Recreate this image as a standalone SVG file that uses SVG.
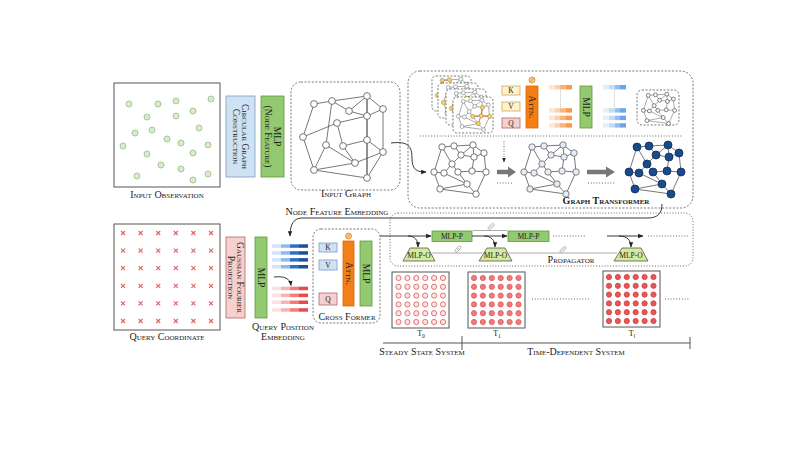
<svg xmlns="http://www.w3.org/2000/svg" xmlns:xlink="http://www.w3.org/1999/xlink" width="808" height="455" viewBox="0 0 808 455">
<defs>
<style>
.t{font-family:"Liberation Serif","DejaVu Serif",serif;font-variant:small-caps;fill:#222;text-anchor:middle}
.l{font-size:10px}
.b{font-weight:bold}
.r{font-size:9.5px}
.s{font-size:7.5px;font-variant:normal}
.green{fill:#93c96f;stroke:#5e9a40;stroke-width:0.8}
.blue{fill:#cfe2f3;stroke:#7a9cc0;stroke-width:0.8}
.pink{fill:#f6cfcf;stroke:#b06a6a;stroke-width:0.8}
.yel{fill:#fff2cc;stroke:#c8ab55;stroke-width:0.8}
.org{fill:#f57f17;stroke:#d96800;stroke-width:0.8}
.mo{fill:#d6ea9c;stroke:#555;stroke-width:0.8}
.dsh{fill:none;stroke:#555;stroke-width:0.8;stroke-dasharray:2 1.6}
.dot{fill:none;stroke:#555;stroke-width:0.9;stroke-dasharray:1 1.8}
.ln{fill:none;stroke:#222;stroke-width:0.9}
.gl{fill:none;stroke:#aaa;stroke-width:1.1}
.obs{fill:#d9ebcc;stroke:#9cc487;stroke-width:0.9}
.frm{fill:#fff;stroke:#555;stroke-width:0.8;stroke-dasharray:2 1.6}
.lnk{fill:none;stroke:#999;stroke-width:0.7}
</style>
<marker id="ah" viewBox="0 0 10 10" refX="9" refY="5" markerWidth="6" markerHeight="6" orient="auto"><path d="M0,1 L10,5 L0,9 z" fill="#222"/></marker>
<linearGradient id="gOr"><stop offset="0" stop-color="#fde6d2"/><stop offset="0.25" stop-color="#fde6d2"/><stop offset="0.25" stop-color="#fcd0a8"/><stop offset="0.5" stop-color="#fcd0a8"/><stop offset="0.5" stop-color="#f9b47a"/><stop offset="0.75" stop-color="#f9b47a"/><stop offset="0.75" stop-color="#f79a4c"/><stop offset="1" stop-color="#f79a4c"/></linearGradient>
<linearGradient id="gLb"><stop offset="0" stop-color="#e3eefb"/><stop offset="0.25" stop-color="#e3eefb"/><stop offset="0.25" stop-color="#c3dbf5"/><stop offset="0.5" stop-color="#c3dbf5"/><stop offset="0.5" stop-color="#93bfee"/><stop offset="0.75" stop-color="#93bfee"/><stop offset="0.75" stop-color="#6aa6e8"/><stop offset="1" stop-color="#6aa6e8"/></linearGradient>
<linearGradient id="gDb"><stop offset="0" stop-color="#d3e4f7"/><stop offset="0.25" stop-color="#d3e4f7"/><stop offset="0.25" stop-color="#8fb9ea"/><stop offset="0.5" stop-color="#8fb9ea"/><stop offset="0.5" stop-color="#2f6fc4"/><stop offset="0.75" stop-color="#2f6fc4"/><stop offset="0.75" stop-color="#1a4f9c"/><stop offset="1" stop-color="#1a4f9c"/></linearGradient>
<linearGradient id="gRd"><stop offset="0" stop-color="#fde0e0"/><stop offset="0.25" stop-color="#fde0e0"/><stop offset="0.25" stop-color="#f8b4b4"/><stop offset="0.5" stop-color="#f8b4b4"/><stop offset="0.5" stop-color="#f07c7c"/><stop offset="0.75" stop-color="#f07c7c"/><stop offset="0.75" stop-color="#e84a4a"/><stop offset="1" stop-color="#e84a4a"/></linearGradient>
<g id="ge" fill="none" stroke="#555" stroke-width="0.8">
<path d="M12,4 L24,3 L43,2 L54,10 L56,29 L46,51 L10,46 L4,29 Z M24,3 L31,12 L44,14 L54,10 M43,2 L31,12 M43,2 L44,14 M31,12 L22,21 L12,4 M44,14 L42,28 L56,29 M22,21 L14,30 L4,29 M22,21 L28,29 L42,28 M14,30 L37,41 L46,51 M28,29 L37,41 L10,46"/>
</g>
<g id="gn">
<circle cx="12" cy="4" r="3.2"/><circle cx="24" cy="3" r="3.2"/><circle cx="43" cy="2" r="3.2"/><circle cx="54" cy="10" r="3.2"/><circle cx="31" cy="12" r="3.2"/><circle cx="44" cy="14" r="3.2"/><circle cx="22" cy="21" r="3.2"/><circle cx="4" cy="29" r="3.2"/><circle cx="14" cy="30" r="3.2"/><circle cx="28" cy="29" r="3.2"/><circle cx="42" cy="28" r="3.2"/><circle cx="56" cy="29" r="3.2"/><circle cx="37" cy="41" r="3.2"/><circle cx="10" cy="46" r="3.2"/><circle cx="46" cy="51" r="3.2"/>
</g>
<g id="gnb">
<circle cx="12" cy="4" r="4"/><circle cx="24" cy="3" r="4"/><circle cx="43" cy="2" r="4"/><circle cx="54" cy="10" r="4"/><circle cx="31" cy="12" r="4"/><circle cx="44" cy="14" r="4"/><circle cx="22" cy="21" r="4"/><circle cx="4" cy="29" r="4"/><circle cx="14" cy="30" r="4"/><circle cx="28" cy="29" r="4"/><circle cx="42" cy="28" r="4"/><circle cx="56" cy="29" r="4"/><circle cx="37" cy="41" r="4"/><circle cx="10" cy="46" r="4"/><circle cx="46" cy="51" r="4"/>
</g>
<g id="grid">
<g id="grow"><circle cx="0" cy="0" r="2.6"/><circle cx="8.9" cy="0" r="2.6"/><circle cx="17.8" cy="0" r="2.6"/><circle cx="26.7" cy="0" r="2.6"/><circle cx="35.6" cy="0" r="2.6"/><circle cx="44.5" cy="0" r="2.6"/></g>
<use xlink:href="#grow" y="8.8"/><use xlink:href="#grow" y="17.6"/><use xlink:href="#grow" y="26.4"/><use xlink:href="#grow" y="35.2"/><use xlink:href="#grow" y="44"/>
</g>
<path id="xm" d="M-2,-2 L2,2 M-2,2 L2,-2" fill="none" stroke="#e06666" stroke-width="1.2"/>
<g id="xrow"><use xlink:href="#xm" x="0"/><use xlink:href="#xm" x="17.6"/><use xlink:href="#xm" x="35.2"/><use xlink:href="#xm" x="52.8"/><use xlink:href="#xm" x="70.4"/><use xlink:href="#xm" x="88"/></g>
<g id="link"><rect x="-3.6" y="-1.4" width="7.2" height="2.8" rx="1.4" class="lnk"/><line x1="-1.5" y1="0" x2="1.5" y2="0" class="lnk"/></g>
<g id="noic"><circle r="3" fill="#fbc58a" stroke="#e8892a" stroke-width="0.8"/><line x1="-1.9" y1="1.9" x2="1.9" y2="-1.9" stroke="#e8892a" stroke-width="0.8"/></g>
</defs>

<rect width="808" height="455" fill="#fff"/>

<!-- Input observation -->
<g id="input-observation">
<rect x="114" y="83" width="106" height="104" fill="#fff" stroke="#555" stroke-width="1"/>
<g class="obs">
<circle cx="129" cy="104" r="3"/><circle cx="158" cy="104" r="3"/><circle cx="176" cy="101" r="3"/><circle cx="211" cy="99" r="3"/><circle cx="147" cy="117" r="3"/><circle cx="176" cy="116" r="3"/><circle cx="193" cy="111" r="3"/><circle cx="199" cy="128" r="3"/><circle cx="135" cy="133" r="3"/><circle cx="152" cy="130" r="3"/><circle cx="167" cy="139" r="3"/><circle cx="181" cy="143" r="3"/><circle cx="123" cy="146" r="3"/><circle cx="208" cy="145" r="3"/><circle cx="147" cy="154" r="3"/><circle cx="193" cy="153" r="3"/><circle cx="161" cy="165" r="3"/><circle cx="181" cy="169" r="3"/><circle cx="208" cy="174" r="3"/><circle cx="137" cy="176" r="3"/><circle cx="193" cy="180" r="3"/>
</g>
<text class="t l" x="167" y="198">Input Observation</text>
</g>

<g id="circular-graph-construction">
<rect x="226" y="96" width="29" height="81" class="blue"/>
<text class="t r" transform="translate(240.5,136.5) rotate(90)"><tspan x="0" y="-1">Circular Graph</tspan><tspan x="0" y="7.5">Construction</tspan></text>
</g>

<g id="mlp-node-feature">
<rect x="261" y="96" width="23" height="81" class="green"/>
<text class="t r" transform="translate(272.5,136.5) rotate(90)"><tspan x="0" y="-1">MLP</tspan><tspan x="0" y="7.5">(Node Feature)</tspan></text>
</g>

<!-- Input graph -->
<g id="input-graph">
<rect x="291" y="82" width="109" height="108" rx="10" class="dsh"/>
<path fill="none" stroke="#555" stroke-width="0.8" d="M314,104 L332,101 L367,96 L383,109 L383,152 L367,178 L314,170 L303,137 Z M332,101 L349,111 L367,96 M349,111 L367,116 L337,123 L303,137 M337,123 L343,146 L367,140 L383,152 M332,101 L326,145 L314,170 M326,145 L355,163 L383,152 M355,163 L314,170 M343,146 L355,163 M367,116 L383,109"/>
<line x1="367" y1="96" x2="367" y2="178" stroke="#555" stroke-width="1.3"/>
<g fill="#fff" stroke="#555" stroke-width="0.8">
<circle cx="314" cy="104" r="3.4"/><circle cx="332" cy="101" r="3.4"/><circle cx="367" cy="96" r="3.4"/><circle cx="383" cy="109" r="3.4"/><circle cx="349" cy="111" r="3.4"/><circle cx="367" cy="116" r="3.4"/><circle cx="337" cy="123" r="3.4"/><circle cx="303" cy="137" r="3.4"/><circle cx="326" cy="145" r="3.4"/><circle cx="343" cy="146" r="3.4"/><circle cx="367" cy="140" r="3.4"/><circle cx="383" cy="152" r="3.4"/><circle cx="355" cy="163" r="3.4"/><circle cx="314" cy="170" r="3.4"/><circle cx="367" cy="178" r="3.4"/>
</g>
<text class="t l" x="346" y="197">Input Graph</text>
</g>

<!-- Graph transformer -->
<g id="graph-transformer">
<rect x="408" y="71" width="285" height="137" rx="12" class="dsh"/>
<line x1="420" y1="136" x2="683" y2="136" class="dot"/>
<g id="stacked-graphs">
<rect x="432" y="76" width="39" height="35" rx="4" class="frm"/>
<g transform="translate(435,78) scale(0.6)"><use xlink:href="#ge"/><use xlink:href="#gn" fill="#fff" stroke="#777"/><path d="M12,4 L4,29 M12,4 L24,3" stroke="#d9534f" stroke-width="1.4" fill="none"/><circle cx="12" cy="4" r="3.2" fill="#f5d76e" stroke="#c9a227"/><circle cx="24" cy="3" r="3.2" fill="#f5d76e" stroke="#c9a227"/><circle cx="4" cy="29" r="3.2" fill="#f5d76e" stroke="#c9a227"/></g>
<rect x="438" y="83" width="40" height="35" rx="4" class="frm"/>
<g transform="translate(441,85) scale(0.6)"><use xlink:href="#ge"/><use xlink:href="#gn" fill="#fff" stroke="#777"/><path d="M22,21 L14,30" stroke="#d9534f" stroke-width="1.4" fill="none"/><circle cx="22" cy="21" r="3.2" fill="#f5d76e" stroke="#c9a227"/><circle cx="4" cy="29" r="3.2" fill="#f5d76e" stroke="#c9a227"/></g>
<rect x="446" y="89" width="40" height="36" rx="4" class="frm"/>
<g transform="translate(449,91) scale(0.6)"><use xlink:href="#ge"/><use xlink:href="#gn" fill="#fff" stroke="#777"/><circle cx="31" cy="12" r="3.2" fill="#f5d76e" stroke="#c9a227"/><circle cx="4" cy="29" r="3.2" fill="#f5d76e" stroke="#c9a227"/></g>
<rect x="453" y="97" width="40" height="36" rx="4" class="frm"/>
<g transform="translate(456,99) scale(0.6)"><use xlink:href="#ge"/><use xlink:href="#gn" fill="#fff" stroke="#777"/><path d="M44,14 L42,28 L37,41 M28,29 L42,28 L56,29" stroke="#d9534f" stroke-width="1.4" fill="none"/><circle cx="44" cy="14" r="3.2" fill="#f5d76e" stroke="#c9a227"/><circle cx="42" cy="28" r="3.2" fill="#f5d76e" stroke="#c9a227"/><circle cx="56" cy="29" r="3.2" fill="#f5d76e" stroke="#c9a227"/><circle cx="37" cy="41" r="3.2" fill="#f5d76e" stroke="#c9a227"/><circle cx="28" cy="29" r="3.2" fill="#f5d76e" stroke="#c9a227"/></g>
</g>
<g id="gt-kvq">
<rect x="502" y="86" width="18" height="9" class="yel"/><text class="t s" x="511" y="93.3">K</text>
<rect x="502" y="102" width="18" height="9" class="yel"/><text class="t s" x="511" y="109.3">V</text>
<rect x="502" y="118" width="18" height="10" class="pink"/><text class="t s" x="511" y="125.8">Q</text>
</g>
<g id="gt-attn">
<use xlink:href="#noic" x="532" y="80"/>
<rect x="526" y="86" width="12" height="42" class="org"/>
<text class="t r" transform="translate(532,107) rotate(90)" y="3">Attn.</text>
</g>
<g id="gt-orange-bars">
<rect x="549" y="85" width="23" height="4.4" fill="url(#gOr)"/>
<line x1="560.5" y1="90" x2="560.5" y2="108" stroke="#999" stroke-width="0.7" stroke-dasharray="1 1.3"/>
<rect x="549" y="108.2" width="23" height="4.4" fill="url(#gOr)"/>
<rect x="549" y="115.7" width="23" height="4.4" fill="url(#gOr)"/>
<rect x="549" y="123.2" width="23" height="4.4" fill="url(#gOr)"/>
</g>
<g id="gt-mlp">
<rect x="580" y="86" width="12" height="42" class="green"/>
<text class="t r" transform="translate(586,107) rotate(90)" y="3">MLP</text>
</g>
<g id="gt-blue-bars">
<rect x="603" y="85" width="23" height="4.4" fill="url(#gLb)"/>
<line x1="614.5" y1="90" x2="614.5" y2="108" stroke="#999" stroke-width="0.7" stroke-dasharray="1 1.3"/>
<rect x="603" y="108.2" width="23" height="4.4" fill="url(#gLb)"/>
<rect x="603" y="115.7" width="23" height="4.4" fill="url(#gLb)"/>
<rect x="603" y="123.2" width="23" height="4.4" fill="url(#gLb)"/>
</g>
<g id="gt-output-graph">
<rect x="637" y="90" width="42" height="35" rx="5" class="dsh"/>
<g transform="translate(641,93) scale(0.6)"><use xlink:href="#ge" stroke="#333"/><use xlink:href="#gn" fill="#fff" stroke="#333"/></g>
</g>
<g id="gt-graph-1" transform="translate(430,143)"><use xlink:href="#ge"/><use xlink:href="#gn" fill="#fff" stroke="#555" stroke-width="0.8"/></g>
<g id="gt-graph-2" transform="translate(520,143)"><use xlink:href="#ge"/><use xlink:href="#gn" fill="#e4ecf7" stroke="#666" stroke-width="0.8"/></g>
<g id="gt-graph-3" transform="translate(625,143)"><use xlink:href="#ge"/><use xlink:href="#gnb" fill="#1b4a8a" stroke="#0f2f5c" stroke-width="0.8"/></g>
<g id="gt-arrows">
<path d="M497,172 L509,172" stroke="#777" stroke-width="4.5"/><path d="M508,166.5 L516,172 L508,177.5 Z" fill="#777"/>
<path d="M587,172 L607,172" stroke="#777" stroke-width="4.5"/><path d="M606,166.5 L615,172 L606,177.5 Z" fill="#777"/>
<line x1="497" y1="183" x2="513" y2="183" class="dot"/>
<line x1="588" y1="183" x2="615" y2="183" class="dot"/>
<line x1="504" y1="141" x2="504" y2="162" stroke="#555" stroke-width="0.8" stroke-dasharray="1 1.5" marker-end="url(#ah)"/>
</g>
<text class="t b" x="606" y="204" style="font-size:10px">Graph Transformer</text>
</g>

<!-- Query coordinate -->
<g id="query-coordinate">
<rect x="114" y="224" width="106" height="106" fill="#fff" stroke="#555" stroke-width="1"/>
<use xlink:href="#xrow" x="123" y="233"/><use xlink:href="#xrow" x="123" y="250.6"/><use xlink:href="#xrow" x="123" y="268.2"/><use xlink:href="#xrow" x="123" y="285.8"/><use xlink:href="#xrow" x="123" y="303.4"/><use xlink:href="#xrow" x="123" y="321"/>
<text class="t l" x="167" y="340">Query Coordinate</text>
</g>

<g id="gaussian-fourier-projection">
<rect x="226" y="237" width="19" height="81" class="pink"/>
<text class="t r" transform="translate(235.5,277.5) rotate(90)"><tspan x="0" y="-1">Gaussian Fourier</tspan><tspan x="0" y="7.5">Projection</tspan></text>
</g>

<g id="query-mlp">
<rect x="255" y="237" width="12" height="81" class="green"/>
<text class="t r" transform="translate(261,277.5) rotate(90)" y="3">MLP</text>
</g>

<g id="embeddings">
<rect x="272" y="244.3" width="36" height="3.5" fill="url(#gDb)"/>
<rect x="272" y="251.2" width="36" height="3.5" fill="url(#gDb)"/>
<rect x="272" y="258.1" width="36" height="3.5" fill="url(#gDb)"/>
<rect x="272" y="265" width="36" height="3.5" fill="url(#gDb)"/>
<rect x="272" y="286.7" width="36" height="3.5" fill="url(#gRd)"/>
<rect x="272" y="293.6" width="36" height="3.5" fill="url(#gRd)"/>
<rect x="272" y="300.5" width="36" height="3.5" fill="url(#gRd)"/>
<rect x="272" y="308.2" width="36" height="3.5" fill="url(#gRd)"/>
<text class="t l" x="283" y="330">Query Position</text>
<text class="t l" x="283" y="340">Embedding</text>
</g>

<g id="cross-former">
<rect x="313" y="229" width="67" height="94" rx="8" class="dsh"/>
<rect x="319" y="243" width="18" height="9" class="blue"/><text class="t s" x="328" y="250.3">K</text>
<rect x="319" y="260" width="18" height="10" class="blue"/><text class="t s" x="328" y="267.8">V</text>
<rect x="319" y="293" width="18" height="12" class="pink"/><text class="t s" x="328" y="301.8">Q</text>
<use xlink:href="#noic" x="348.5" y="236"/>
<rect x="343" y="241" width="11" height="65" class="org"/>
<text class="t r" transform="translate(348.5,273.5) rotate(90)" y="3">Attn.</text>
<rect x="360" y="241" width="12" height="65" class="green"/>
<text class="t r" transform="translate(366,273.5) rotate(90)" y="3">MLP</text>
<text class="t l" x="347" y="320">Cross Former</text>
</g>

<!-- Propagator -->
<g id="propagator">
<rect x="390" y="213" width="303" height="53" rx="8" class="dot"/>
<g id="mlp-p-1"><rect x="432" y="231" width="40" height="10.5" class="green"/><text class="t s" x="452" y="239">MLP-P</text></g>
<g id="mlp-p-2"><rect x="508" y="231" width="41" height="10.5" class="green"/><text class="t s" x="528.5" y="239">MLP-P</text></g>
<g id="mlp-o-1"><path d="M410,248 L428,248 L435,261 L403,261 Z" class="mo"/><text class="t s" x="419" y="258">MLP-O</text></g>
<g id="mlp-o-2"><path d="M487,248 L505,248 L512,261 L479,261 Z" class="mo"/><text class="t s" x="495.5" y="258">MLP-O</text></g>
<g id="mlp-o-3"><path d="M622,248 L641,248 L648,261 L614,261 Z" class="mo"/><text class="t s" x="631" y="258">MLP-O</text></g>
<line x1="553" y1="236" x2="586" y2="236" class="dot"/>
<line x1="648" y1="236" x2="688" y2="236" class="dot"/>
<text class="t l" x="571" y="263">Propagator</text>
</g>

<!-- Output grids -->
<g id="grid-t0">
<rect x="392" y="272" width="57" height="56" fill="#fff" stroke="#555" stroke-width="1"/>
<use xlink:href="#grid" x="398.5" y="278" fill="#fde3e3" stroke="#e06666" stroke-width="0.9"/>
<text class="t s" x="421" y="336" style="font-size:8px">T<tspan font-size="5.5" dy="1.5">0</tspan></text>
</g>
<g id="grid-t1">
<rect x="468" y="272" width="57" height="56" fill="#fff" stroke="#555" stroke-width="1"/>
<use xlink:href="#grid" x="474" y="278" fill="#ee7b7b" stroke="#e06060" stroke-width="0.9"/>
<text class="t s" x="497" y="336" style="font-size:8px">T<tspan font-size="5.5" dy="1.5">1</tspan></text>
</g>
<g id="grid-tl">
<rect x="603" y="271" width="57" height="56" fill="#fff" stroke="#555" stroke-width="1"/>
<use xlink:href="#grid" x="609" y="277" fill="#e85555" stroke="#d84444" stroke-width="0.9"/>
<text class="t s" x="632" y="336" style="font-size:8px">T<tspan font-size="5.5" dy="1.5">l</tspan></text>
</g>
<line x1="532" y1="299" x2="590" y2="299" class="dot"/>
<line x1="665" y1="299" x2="690" y2="299" class="dot"/>

<g id="timeline">
<line x1="383" y1="343" x2="690" y2="343" stroke="#444" stroke-width="0.9"/>
<line x1="462" y1="336" x2="462" y2="350" stroke="#444" stroke-width="0.9"/>
<line x1="690" y1="337" x2="690" y2="349" stroke="#444" stroke-width="0.9"/>
<text class="t l" x="422" y="355">Steady State System</text>
<text class="t l" x="576" y="355">Time-Dependent System</text>
</g>

<!-- Connectors -->
<g id="connectors">
<path d="M391,143 C408,141 412,146 412,158 C412,170 417,172 426,172" class="ln" marker-end="url(#ah)"/>
<path d="M662,204 C662,213 658,218 648,218 L302,218 C294,218 290,224 290,236" class="ln" marker-end="url(#ah)"/>
<text class="t l" x="337" y="215">Node Feature Embedding</text>
<path d="M274,277 C284,276 290,278 291,285.5" class="ln" marker-end="url(#ah)"/>
<path d="M380,236 L431,236" class="ln" marker-end="url(#ah)"/>
<path d="M408,236 C415,236 418,240 418,247" class="ln" marker-end="url(#ah)"/>
<path d="M472,236 L507,236" class="ln" marker-end="url(#ah)"/>
<path d="M484,236 C491,236 495,240 495,247" class="ln" marker-end="url(#ah)"/>
<path d="M607,236 L643,236" class="ln" marker-end="url(#ah)"/>
<path d="M619,236 C627,236 631,240 631,247" class="ln" marker-end="url(#ah)"/>
<line x1="473" y1="230.5" x2="507" y2="230.5" class="gl"/>
<line x1="432" y1="253" x2="482" y2="253" class="gl"/>
<line x1="509" y1="253" x2="617" y2="253" class="gl"/>
<use xlink:href="#link" transform="translate(491,226.5) rotate(-45)"/>
<use xlink:href="#link" transform="translate(458,249) rotate(-45)"/>
<use xlink:href="#link" transform="translate(563,249.5) rotate(-45)"/>
</g>
</svg>
